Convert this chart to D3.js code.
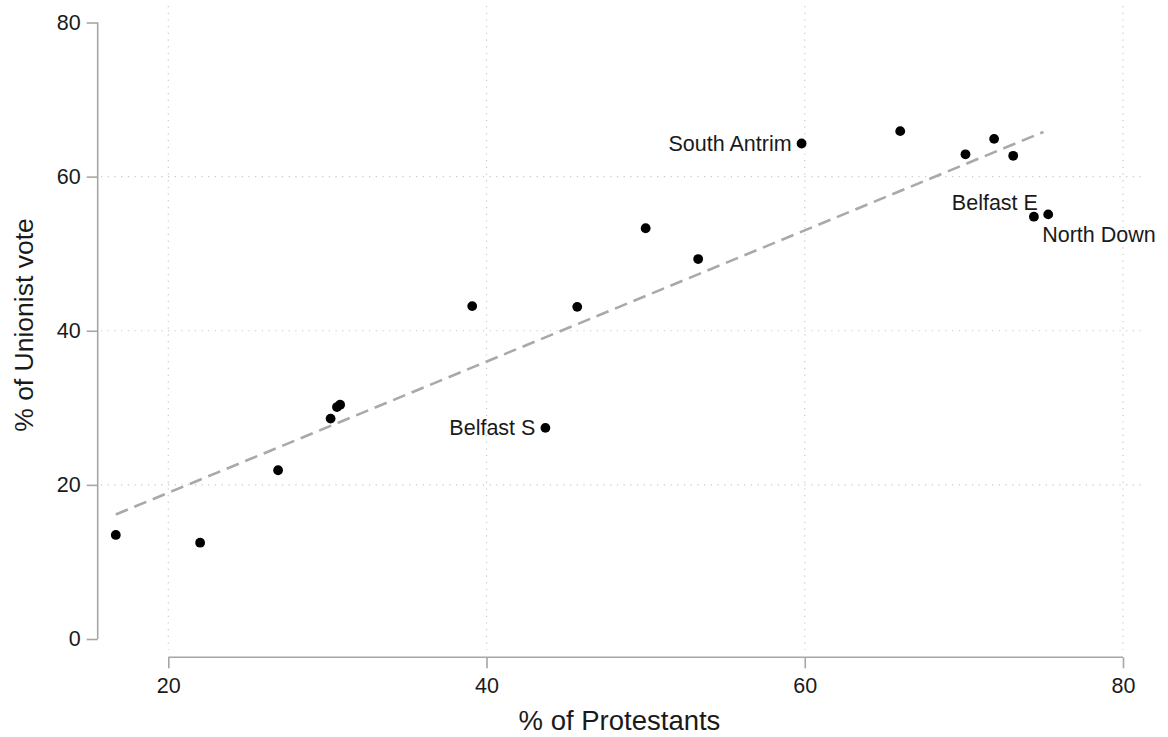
<!DOCTYPE html>
<html>
<head>
<meta charset="utf-8">
<script src="https://cdn.jsdelivr.net/npm/d3@7"></script>
<style>
  html, body { margin: 0; padding: 0; background: #fff; }
  svg { display: block; font-family: "Liberation Sans", Arial, sans-serif; }
</style>
</head>
<body>
<svg id="chart" width="1168" height="737"></svg>
<script>
// ---- data ----
const protestants = [16.7, 22.0, 26.9, 30.2, 30.6, 30.8, 39.1, 43.7, 45.7, 50.0, 53.3, 59.8, 66.0, 70.1, 71.9, 73.1, 74.4, 75.3];
const unionist    = [13.5, 12.5, 21.9, 28.6, 30.1, 30.4, 43.2, 27.4, 43.1, 53.3, 49.3, 64.3, 65.9, 62.9, 64.9, 62.7, 54.8, 55.1];
const names       = ["", "", "", "", "", "", "", "Belfast S", "", "", "", "South Antrim", "", "", "", "", "Belfast E", "North Down"];
const labelPos    = ["", "", "", "", "", "", "", "9", "", "", "", "9", "", "", "", "", "11", "4"];
const xTicks = [20, 40, 60, 80];
const yTicks = [0, 20, 40, 60, 80];
const xGrid = [20, 40, 60, 80];
const yGrid = [20, 40, 60];

const svg = d3.select("#chart");
const x = d3.scaleLinear().domain([20, 80]).range([168.3, 1123]);
const y = d3.scaleLinear().domain([0, 80]).range([639, 22.5]);

const plotLeft = 101, plotRight = 1141, plotTop = 6, plotBottom = 650;
const axisGray = "#a6a6a6";
const textCol = "#1a1a1a";

// grid
svg.append("g").selectAll("line").data(xGrid).join("line")
  .attr("x1", d => x(d)).attr("x2", d => x(d))
  .attr("y1", plotTop).attr("y2", plotBottom)
  .attr("stroke", "#c8c8c8").attr("stroke-width", 1.2)
  .attr("stroke-dasharray", "1.2,5.5");
svg.append("g").selectAll("line").data(yGrid).join("line")
  .attr("y1", d => y(d)).attr("y2", d => y(d))
  .attr("x1", plotLeft).attr("x2", plotRight)
  .attr("stroke", "#c8c8c8").attr("stroke-width", 1.2)
  .attr("stroke-dasharray", "1.2,5.5");

// axes
const yAxis = d3.axisLeft(y).tickValues(yTicks).tickSize(11).tickPadding(6).tickFormat(d3.format("d"));
const gy = svg.append("g").attr("transform", "translate(97.7,0)").call(yAxis);
const xAxis = d3.axisBottom(x).tickValues(xTicks).tickSize(11).tickPadding(9).tickFormat(d3.format("d"));
const gx = svg.append("g").attr("transform", "translate(0,657.3)").call(xAxis);
[gx, gy].forEach(g => {
  g.select(".domain").attr("stroke", axisGray).attr("stroke-width", 1.6);
  g.selectAll(".tick line").attr("stroke", axisGray).attr("stroke-width", 1.6);
  g.selectAll(".tick text").attr("fill", textCol).style("font-size", "21.5px")
    .style("font-family", "'Liberation Sans', Arial, sans-serif");
});
// domain paths without outer ticks
gy.select(".domain").attr("d", `M0,${y(80)}V${y(0)}`);
gx.select(".domain").attr("d", `M${x(20)},0H${x(80)}`);

// fit line (OLS)
const n = protestants.length;
const mx = d3.mean(protestants), my = d3.mean(unionist);
let sxy = 0, sxx = 0;
for (let i = 0; i < n; i++) {
  sxy += (protestants[i] - mx) * (unionist[i] - my);
  sxx += (protestants[i] - mx) ** 2;
}
const b = sxy / sxx, a = my - b * mx;
const x0 = d3.min(protestants), x1 = d3.max(protestants) - 0.3;
svg.append("line")
  .attr("x1", x(x0)).attr("y1", y(a + b * x0))
  .attr("x2", x(x1)).attr("y2", y(a + b * x1))
  .attr("stroke", "#a9a9a9").attr("stroke-width", 2.6)
  .attr("stroke-dasharray", "13,7");

// points
const pts = protestants.map((p, i) => ({ x: p, y: unionist[i], name: names[i], pos: labelPos[i] }));
svg.append("g").selectAll("circle").data(pts).join("circle")
  .attr("cx", d => x(d.x)).attr("cy", d => y(d.y)).attr("r", 4.9)
  .attr("fill", "#000");

// labels
const off = {
  "9":  { dx: -10, dy: 0, anchor: "end", base: "0.35em" },
  "11": { dx: 4, dy: -7, anchor: "end", base: "0em" },
  "4":  { dx: -6, dy: 28, anchor: "start", base: "0em" }
};
svg.append("g").selectAll("text").data(pts.filter(d => d.name)).join("text")
  .attr("x", d => x(d.x) + off[d.pos].dx)
  .attr("y", d => y(d.y) + off[d.pos].dy)
  .attr("dy", d => off[d.pos].base)
  .attr("text-anchor", d => off[d.pos].anchor)
  .attr("fill", textCol).style("font-size", "21.5px")
  .text(d => d.name);

// axis titles
svg.append("text").attr("x", 619.5).attr("y", 730).attr("text-anchor", "middle")
  .attr("fill", textCol).style("font-size", "27.5px").text("% of Protestants");
svg.append("text").attr("transform", "translate(33,325) rotate(-90)").attr("text-anchor", "middle")
  .attr("fill", textCol).style("font-size", "26.5px").text("% of Unionist vote");
</script>
</body>
</html>
